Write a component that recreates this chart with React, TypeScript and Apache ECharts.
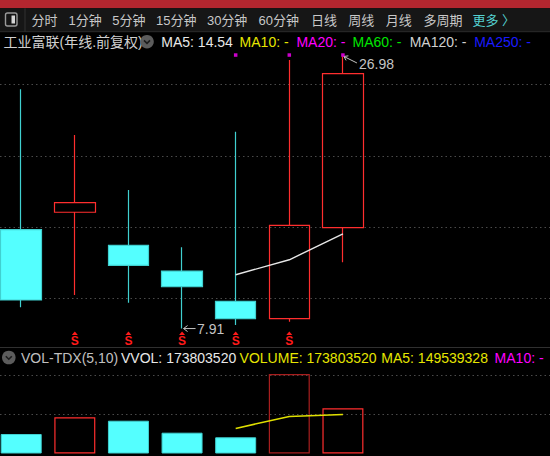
import { useEffect, useRef } from "react";
import * as echarts from "echarts";

// Yearly bars, front-adjusted prices
const years = ["2018", "2019", "2020", "2021", "2022", "2023", "2024"];
const opens = [14.84, 16.06, 13.74, 11.94, 9.82, 8.6, 14.98];
const closes = [9.91, 16.73, 12.34, 10.84, 8.6, 15.14, 25.78];
const lows = [9.4, 10.26, 9.72, 7.91, 8.16, 8.39, 12.55];
const highs = [24.68, 21.47, 17.62, 13.6, 21.71, 26.73, 26.98];
const ma5 = [null, null, null, null, 11.68, 12.73, 14.54];

const volumes = [75000000, 139200000, 126100000, 80000000, 62300000, 305500000, 173803520];
const volMa5 = [null, null, null, null, 96520000, 142620000, 149539328];

// Signal marks: red "S" below the bars, magenta dots above
const sSignals = [1, 2, 3, 4, 5];
const topSignals = [4, 5, 6];

const periods = ["分时", "1分钟", "5分钟", "15分钟", "30分钟", "60分钟", "日线", "周线", "月线", "多周期"];
const moreLabel = "更多 〉";
const stockTitle = "工业富联(年线.前复权)";

// ---- layout ----
const W = 550;
const H = 456;
const SLOT = 53.62;
const FIRST_X = 21.2;
const SLOTS = 10;
const PLOT_RIGHT = W - (FIRST_X + (SLOTS - 1) * SLOT);
const PRICE_MIN = 5;
const PRICE_MAX = 30;
const PRICE_TOP = 13.37;
const PRICE_H = 356.7;
const VOL_MAX = 330000000;
const VOL_TOP = 367.7;
const VOL_H = 85.8;
const S_LEVEL = 7.04;
const DOT_LEVEL = 27.08;
const TAB_X = [31.6, 68.4, 112.2, 156.1, 206.9, 258.5, 311.1, 348.3, 385.8, 423.4];
const MORE_X = 472.5;
const MA_X = [161.3, 239.6, 296.4, 352.5, 409.7, 474.2];
const VOL_TEXT_X = [21, 121, 239.6, 381.3, 494.6];

const FAMILY = '"Liberation Sans", "Noto Sans CJK SC", sans-serif';
const font = (size: number, weight = "normal") => `${weight} ${size}px ${FAMILY}`;

const RED = "#ff2e2e";
const RED_DIM = "#a81e1e";
const CYAN = "#54ffff";
const CYAN_EDGE = "#40d0d0";
const GRID_DOT = "#4a4a4a";
const NOTE = "#c4c4c4";

function label(x: number, y: number, text: string, fill: string, size = 14) {
  return {
    type: "text",
    x,
    y,
    silent: true,
    style: { text, fill, font: font(size), align: "left", verticalAlign: "middle" },
  };
}

function roundIcon(cx: number, cy: number) {
  return [
    { type: "circle", shape: { cx, cy, r: 6.8 }, style: { fill: "#5c5c5c" }, silent: true },
    {
      type: "polyline",
      shape: { points: [[cx - 3, cy - 1.3], [cx, cy + 1.7], [cx + 3, cy - 1.3]] },
      style: { stroke: "#1c1c1c", lineWidth: 1.6, fill: null },
      silent: true,
    },
  ];
}

export default function App() {
  const ref = useRef<HTMLDivElement>(null);

  useEffect(() => {
    if (!ref.current) return;
    const chart = echarts.init(ref.current, null, { renderer: "svg" });

    const slotNames = [...years, " ", "  ", "   "];
    const candleData = years.map((_, i) => [opens[i], closes[i], lows[i], highs[i]]);
    const volData = volumes.map((v, i) => {
      const up = closes[i] >= opens[i];
      const edge = i === 5 ? RED_DIM : RED;
      return {
        value: v,
        itemStyle: up
          ? { color: "rgba(0,0,0,0)", borderColor: edge, borderWidth: 1.2 }
          : { color: CYAN, borderColor: CYAN_EDGE, borderWidth: 1 },
      };
    });

    const minLow = Math.min(...lows);
    const maxHigh = Math.max(...highs);
    const extremes = [
      [lows.indexOf(minLow), minLow, 0],
      [highs.indexOf(maxHigh), maxHigh, 1],
    ];

    const lastMa5 = ma5[ma5.length - 1] as number;
    const lastVol = volumes[volumes.length - 1];
    const lastVolMa5 = volMa5[volMa5.length - 1] as number;

    const graphic: any[] = [
      // top bar and toolbar
      { type: "rect", shape: { x: 0, y: 0, width: W, height: 8.3 }, style: { fill: "#b3262f" }, silent: true },
      { type: "rect", shape: { x: 0, y: 8.3, width: W, height: 23.4 }, style: { fill: "#161616" }, silent: true },
      { type: "line", shape: { x1: 0, y1: 31.7, x2: W, y2: 31.7 }, style: { stroke: "#2a2a2a", lineWidth: 1 }, silent: true },
      { type: "line", shape: { x1: 25, y1: 8.3, x2: 25, y2: 31.7 }, style: { stroke: "#303030", lineWidth: 1 }, silent: true },
      {
        type: "rect",
        shape: { x: 5.5, y: 13, width: 11.5, height: 13, r: 2 },
        style: { fill: null, stroke: "#9a9a9a", lineWidth: 1.4 },
        silent: true,
      },
      { type: "rect", shape: { x: 11.5, y: 15.5, width: 3.5, height: 8 }, style: { fill: "#d6d6d6" }, silent: true },
      ...periods.map((p, i) => label(TAB_X[i], 20.7, p, "#c8c8c8", 13)),
      label(MORE_X, 20.7, moreLabel, "#54d0d0", 13),

      // price legend row
      label(3.5, 41.7, stockTitle, "#d0d0d0", 14),
      ...roundIcon(147, 41.7),
      label(MA_X[0], 41.7, `MA5: ${lastMa5.toFixed(2)}`, "#e8e8e8"),
      label(MA_X[1], 41.7, "MA10: -", "#e6e600"),
      label(MA_X[2], 41.7, "MA20: -", "#ff00ff"),
      label(MA_X[3], 41.7, "MA60: -", "#00e600"),
      label(MA_X[4], 41.7, "MA120: -", "#d0d0d0"),
      label(MA_X[5], 41.7, "MA250: -", "#1a1aff"),

      // pane separator and volume legend row
      { type: "line", shape: { x1: 0, y1: 347.5, x2: W, y2: 347.5 }, style: { stroke: "#303030", lineWidth: 1 }, silent: true },
      ...roundIcon(8.8, 357.5),
      label(VOL_TEXT_X[0], 357.5, "VOL-TDX(5,10)", "#c0c0c0"),
      label(VOL_TEXT_X[1], 357.5, `VVOL: ${lastVol}`, "#e8e8e8"),
      label(VOL_TEXT_X[2], 357.5, `VOLUME: ${lastVol}`, "#e6e600"),
      label(VOL_TEXT_X[3], 357.5, `MA5: ${lastVolMa5}`, "#e6e600"),
      label(VOL_TEXT_X[4], 357.5, "MA10: -", "#ff00ff"),
    ];

    const dotted = { show: true, lineStyle: { color: GRID_DOT, type: [1.5, 3] as any, width: 1 }, showMinLine: false, showMaxLine: false };

    const option: any = {
      animation: false,
      backgroundColor: "#000",
      graphic,
      grid: [
        { left: FIRST_X, right: PLOT_RIGHT, top: PRICE_TOP, height: PRICE_H },
        { left: FIRST_X, right: PLOT_RIGHT, top: VOL_TOP, height: VOL_H },
        { left: 0, right: 0, top: PRICE_TOP, height: PRICE_H },
        { left: 0, right: 0, top: VOL_TOP, height: VOL_H },
      ],
      xAxis: [
        { type: "category", gridIndex: 0, data: slotNames, boundaryGap: false, show: false },
        { type: "category", gridIndex: 1, data: slotNames, boundaryGap: false, show: false },
        { type: "value", gridIndex: 2, min: 0, max: 1, show: false },
        { type: "value", gridIndex: 3, min: 0, max: 1, show: false },
      ],
      yAxis: [
        { type: "value", gridIndex: 0, min: PRICE_MIN, max: PRICE_MAX, show: false },
        { type: "value", gridIndex: 1, min: 0, max: VOL_MAX, show: false },
        {
          type: "value",
          gridIndex: 2,
          min: PRICE_MIN,
          max: PRICE_MAX,
          interval: 5,
          axisLine: { show: false },
          axisTick: { show: false },
          axisLabel: { show: false },
          splitLine: dotted,
        },
        {
          type: "value",
          gridIndex: 3,
          min: 0,
          max: VOL_MAX,
          interval: 150000000,
          axisLine: { show: false },
          axisTick: { show: false },
          axisLabel: { show: false },
          splitLine: dotted,
        },
      ],
      series: [
        {
          type: "candlestick",
          xAxisIndex: 0,
          yAxisIndex: 0,
          data: candleData,
          barWidth: 41,
          clip: false,
          silent: true,
          itemStyle: {
            color: "rgba(0,0,0,0)",
            color0: CYAN,
            borderColor: RED,
            borderColor0: CYAN_EDGE,
            borderWidth: 1.2,
          },
        },
        {
          type: "line",
          xAxisIndex: 0,
          yAxisIndex: 0,
          data: ma5,
          symbol: "none",
          silent: true,
          lineStyle: { color: "#e6e6e6", width: 1.4 },
        },
        {
          type: "scatter",
          xAxisIndex: 0,
          yAxisIndex: 0,
          data: topSignals.map((i) => [i, DOT_LEVEL]),
          symbol: "rect",
          symbolSize: 3.5,
          silent: true,
          itemStyle: { color: "#ff00ff" },
        },
        {
          type: "custom",
          xAxisIndex: 0,
          yAxisIndex: 0,
          silent: true,
          data: sSignals.map((i) => [i, S_LEVEL]),
          encode: { x: 0, y: 1 },
          renderItem: (_p: any, api: any) => {
            const [x, y] = api.coord([api.value(0), api.value(1)]);
            return {
              type: "group",
              children: [
                {
                  type: "polygon",
                  shape: { points: [[x, y - 9.5], [x - 3, y - 6], [x + 3, y - 6]] },
                  style: { fill: "#ff1a1a" },
                },
                {
                  type: "text",
                  x,
                  y: y + 0.5,
                  style: { text: "S", fill: "#ff1a1a", font: font(12, "bold"), align: "center", verticalAlign: "middle" },
                },
              ],
            };
          },
        },
        {
          type: "custom",
          xAxisIndex: 0,
          yAxisIndex: 0,
          silent: true,
          data: extremes,
          encode: { x: 0, y: 1 },
          renderItem: (_p: any, api: any) => {
            const val = api.value(1);
            const kind = api.value(2);
            const [x, y] = api.coord([api.value(0), val]);
            const text = Number(val).toFixed(2);
            if (kind === 0) {
              const tx = x + 1.5;
              return {
                type: "group",
                children: [
                  { type: "line", shape: { x1: tx, y1: y, x2: tx + 12, y2: y }, style: { stroke: NOTE, lineWidth: 1 } },
                  {
                    type: "polyline",
                    shape: { points: [[tx + 4, y - 3], [tx, y], [tx + 4, y + 3]] },
                    style: { stroke: NOTE, lineWidth: 1, fill: null },
                  },
                  {
                    type: "text",
                    x: tx + 13.5,
                    y,
                    style: { text, fill: NOTE, font: font(14), align: "left", verticalAlign: "middle" },
                  },
                ],
              };
            }
            const tx = x + 1;
            const ty = y;
            const ex = x + 14;
            const ey = y + 6.5;
            const a = Math.atan2(ey - ty, ex - tx);
            const h1 = [tx + 4.5 * Math.cos(a - 0.6), ty + 4.5 * Math.sin(a - 0.6)];
            const h2 = [tx + 4.5 * Math.cos(a + 0.6), ty + 4.5 * Math.sin(a + 0.6)];
            return {
              type: "group",
              children: [
                { type: "line", shape: { x1: tx, y1: ty, x2: ex, y2: ey }, style: { stroke: NOTE, lineWidth: 1 } },
                { type: "polyline", shape: { points: [h1, [tx, ty], h2] }, style: { stroke: NOTE, lineWidth: 1, fill: null } },
                {
                  type: "text",
                  x: x + 16,
                  y: y + 7.5,
                  style: { text, fill: NOTE, font: font(14), align: "left", verticalAlign: "middle" },
                },
              ],
            };
          },
        },
        {
          type: "bar",
          xAxisIndex: 1,
          yAxisIndex: 1,
          data: volData,
          barWidth: 41,
          clip: false,
          silent: true,
        },
        {
          type: "line",
          xAxisIndex: 1,
          yAxisIndex: 1,
          data: volMa5,
          symbol: "none",
          silent: true,
          lineStyle: { color: "#e0e000", width: 1.5 },
        },
      ],
    };

    chart.setOption(option);
    return () => chart.dispose();
  }, []);

  return (
    <div
      ref={ref}
      style={{ position: "fixed", left: 0, top: 0, width: W, height: H, background: "#000" }}
    />
  );
}
